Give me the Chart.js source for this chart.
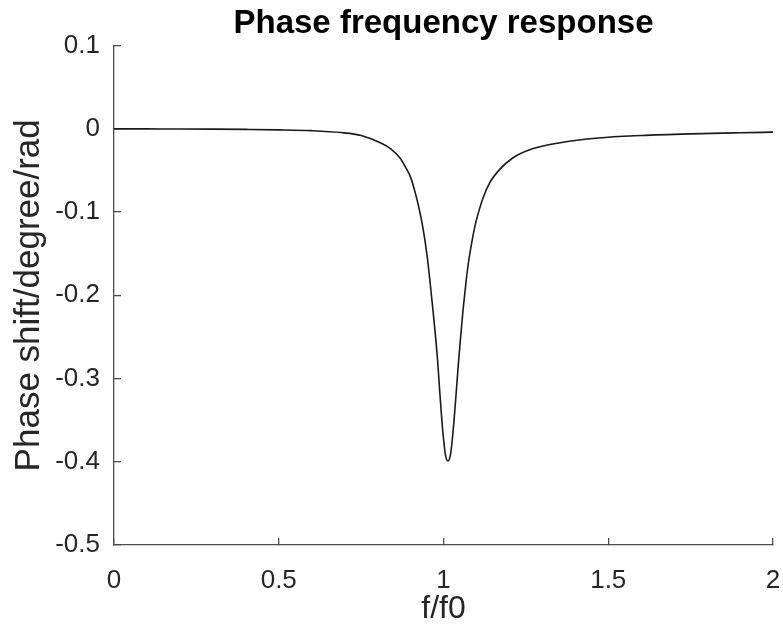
<!DOCTYPE html>
<html>
<head>
<meta charset="utf-8">
<script src="https://cdn.jsdelivr.net/npm/chart.js@4.4.1/dist/chart.umd.min.js"></script>
<style>
  html, body { margin: 0; padding: 0; background: #fff; }
  #wrap { width: 783px; height: 634px; }
</style>
</head>
<body>
<div id="wrap"><canvas id="phaseChart" width="783" height="634"></canvas></div>
<script>
// values
const freqRatio = [0, 0.1, 0.2, 0.3, 0.4, 0.5, 0.6, 0.69, 0.75, 0.81, 0.84, 0.868, 0.889, 0.9, 0.913,
  0.925, 0.938, 0.95, 0.96, 0.968, 0.975, 0.982, 0.989, 0.995, 1.0, 1.006, 1.0135, 1.021, 1.027,
  1.032, 1.038, 1.045, 1.052, 1.06, 1.068, 1.076, 1.086, 1.096, 1.108, 1.12, 1.14, 1.17, 1.21,
  1.27, 1.35, 1.47, 1.6, 1.75, 1.9, 2.0]
const phaseShift = [0, -0.0001, -0.0002, -0.0004, -0.0007, -0.0012, -0.0022, -0.0045, -0.008, -0.017,
  -0.024, -0.035, -0.049, -0.058, -0.075, -0.094, -0.12, -0.152, -0.187, -0.218, -0.246, -0.278,
  -0.318, -0.35, -0.372, -0.392, -0.399, -0.392, -0.372, -0.35, -0.32, -0.283, -0.25, -0.215,
  -0.185, -0.16, -0.136, -0.116, -0.098, -0.083, -0.065, -0.049, -0.035, -0.024, -0.017, -0.011,
  -0.008, -0.006, -0.0047, -0.004]
const xTicks = [0, 0.5, 1, 1.5, 2]
const yTicks = [0.1, 0, -0.1, -0.2, -0.3, -0.4, -0.5]

const textColor = '#262626'
const axisColor = '#4d4d4d'
const fontFamily = "'Liberation Sans', Arial, Helvetica, sans-serif"

const points = freqRatio.map((f, i) => ({ x: f, y: phaseShift[i] }))

const ctx = document.getElementById('phaseChart').getContext('2d')
new Chart(ctx, {
  type: 'line',
  data: {
    datasets: [{
      data: points,
      borderColor: '#1a1a1a',
      borderWidth: 1.6,
      pointRadius: 0,
      cubicInterpolationMode: 'monotone',
      fill: false
    }]
  },
  options: {
    responsive: false,
    animation: false,
    layout: { padding: { left: 0, right: 10, top: 0, bottom: 0 } },
    plugins: {
      legend: { display: false },
      tooltip: { enabled: false },
      title: {
        display: true,
        text: 'Phase frequency response',
        fullSize: false,
        color: '#000',
        font: { family: fontFamily, size: 33, weight: 'bold', lineHeight: 1.2 },
        padding: { top: 4, bottom: 2 }
      }
    },
    scales: {
      x: {
        type: 'linear',
        min: 0,
        max: 2,
        afterBuildTicks: scale => { scale.ticks = xTicks.map(v => ({ value: v })) },
        afterFit: scale => {
          scale.height = 89
          scale.paddingLeft = 0
          scale.paddingRight = 8
        },
        border: { display: true, color: axisColor, width: 1.3 },
        grid: { drawOnChartArea: false, drawTicks: true, tickLength: -7, color: axisColor, lineWidth: 1.3 },
        ticks: {
          color: textColor,
          padding: 27,
          maxRotation: 0,
          font: { family: fontFamily, size: 26 },
          callback: v => String(Math.round(v * 10) / 10)
        },
        title: {
          display: true,
          text: 'f/f0',
          color: textColor,
          font: { family: fontFamily, size: 32, lineHeight: 1.2 },
          padding: { top: 0, bottom: 6 }
        }
      },
      y: {
        type: 'linear',
        min: -0.5,
        max: 0.1,
        afterBuildTicks: scale => { scale.ticks = yTicks.map(v => ({ value: v })) },
        afterFit: scale => {
          scale.width = 114
          scale.paddingTop = 0
          scale.paddingBottom = 0
        },
        border: { display: true, color: axisColor, width: 1.3 },
        grid: { drawOnChartArea: false, drawTicks: true, tickLength: -7, color: axisColor, lineWidth: 1.3 },
        ticks: {
          color: textColor,
          padding: 21,
          font: { family: fontFamily, size: 26 },
          callback: v => String(Math.round(v * 10) / 10)
        },
        title: {
          display: true,
          text: 'Phase shift/degree/rad',
          color: textColor,
          font: { family: fontFamily, size: 35, lineHeight: 1.2 },
          padding: { top: 8, bottom: 0 }
        }
      }
    }
  }
})
</script>
</body>
</html>
